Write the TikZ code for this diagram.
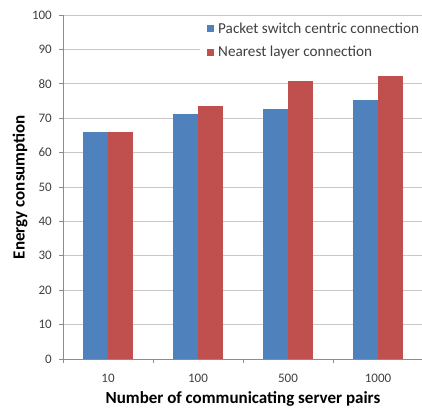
\documentclass[tikz,border=0pt]{standalone}
\usepackage{fontspec}
\setmainfont{Carlito}
\usetikzlibrary{positioning}
\definecolor{BarBlue}{HTML}{4F81BD}
\definecolor{BarRed}{HTML}{C0504D}
\definecolor{GridGray}{HTML}{C8C8C8}
\definecolor{AxisGray}{HTML}{8C8C8C}
\definecolor{TickText}{HTML}{404040}

\begin{document}
\begin{tikzpicture}[
    x=1pt, y=1pt,
    grid/.style={draw=GridGray, line width=0.9pt},
    axis/.style={draw=AxisGray, line width=0.9pt},
    ticklabel/.style={
      font=\fontsize{13}{15}\selectfont,
      text=TickText,
      inner sep=0pt
    },
    axistitle/.style={
      font=\fontsize{17}{20}\selectfont\bfseries,
      inner sep=0pt
    },
    legendtext/.style={
      font=\fontsize{15.2}{18}\selectfont,
      text=TickText,
      anchor=west,
      inner sep=0pt
    },
    blueBar/.style={fill=BarBlue},
    redBar/.style={fill=BarRed}
  ]
    \useasboundingbox (-63,-50) rectangle (359,359);

    % gridlines and value axis
    \foreach \v in {10,20,...,100}
      \draw[grid] (0,3.44*\v) -- (359,3.44*\v);
    \foreach \v in {0,10,...,100} {
      \draw[axis] (-4,3.44*\v) -- (0,3.44*\v);
      \node[ticklabel, anchor=east] (y\v) at (-11,3.44*\v) {\v};
    }
    \draw[axis] (0,0) -- (0,344);

    % bars: blue = packet switch centric, red = nearest layer
    \fill[blueBar] (20,0)  rectangle (45,3.44*66.1);
    \fill[redBar]  (45,0)  rectangle (70,3.44*66.1);
    \fill[blueBar] (110,0) rectangle (135,3.44*71.2);
    \fill[redBar]  (135,0) rectangle (160,3.44*73.5);
    \fill[blueBar] (200,0) rectangle (225,3.44*72.7);
    \fill[redBar]  (225,0) rectangle (250,3.44*80.8);
    \fill[blueBar] (290,0) rectangle (315,3.44*75.2);
    \fill[redBar]  (315,0) rectangle (340,3.44*82.3);

    % category axis
    \draw[axis] (0,0) -- (359,0);
    \foreach \t in {0,90,180,270}
      \draw[axis] (\t,0) -- (\t,-4);
    \node[ticklabel] (x10)   at (45,-19)  {10};
    \node[ticklabel] (x100)  at (135,-19) {100};
    \node[ticklabel] (x500)  at (225,-19) {500};
    \node[ticklabel] (x1000) at (315,-19) {1000};

    % axis titles
    \node[axistitle] (xtitle) at (180,-40) {Number of communicating server pairs};
    \node[axistitle, rotate=90] (ytitle) at (-43,172) {Energy consumption};

    % legend
    \fill[white] (137,297) rectangle (359,339);
    \fill[blueBar] (144,327) rectangle (151,334);
    \fill[redBar]  (144,303) rectangle (151,310);
    \node[legendtext] (lgblue) at (155,330.5) {Packet switch centric connection};
    \node[legendtext] (lgred)  at (155,306.5) {Nearest layer connection};
\end{tikzpicture}
\end{document}
